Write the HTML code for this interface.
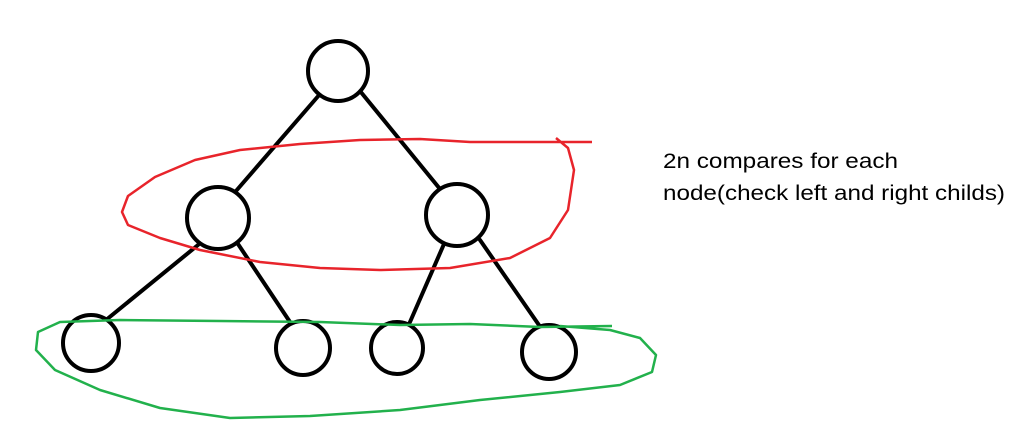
<!DOCTYPE html>
<html><head><meta charset="utf-8"><style>
html,body{margin:0;padding:0;background:#fff;}
svg{display:block;}
</style></head><body>
<svg width="1012" height="434" viewBox="0 0 1012 434" xmlns="http://www.w3.org/2000/svg">
<g stroke="#000" stroke-width="4" fill="none" stroke-linecap="round">
<line x1="320" y1="94" x2="236" y2="191"/>
<line x1="360" y1="91" x2="440" y2="189"/>
<line x1="198" y1="245" x2="106" y2="320"/>
<line x1="238" y1="244" x2="290" y2="322"/>
<line x1="444" y1="244" x2="410" y2="322"/>
<line x1="480" y1="240" x2="541" y2="328"/>
<circle cx="338" cy="71" r="30" fill="#fff"/>
<circle cx="218" cy="218" r="31" fill="#fff"/>
<circle cx="457" cy="215" r="31" fill="#fff"/>
<circle cx="91" cy="343" r="28" fill="#fff"/>
<circle cx="303" cy="348" r="27" fill="#fff"/>
<circle cx="397" cy="348" r="26" fill="#fff"/>
<circle cx="549" cy="352" r="27" fill="#fff"/>
</g>
<path d="M592 142 L470 142 L420 139 L360 140 L300 144 L240 150 L195 160 L155 177 L128 196 L122 212 L128 225 L160 238 L200 250 L260 262 L320 268 L380 270 L450 268 L510 258 L550 238 L568 210 L574 170 L568 148 L556 138" stroke="#e8242b" stroke-width="2.5" fill="none" stroke-linejoin="round"/>
<path d="M612 326 L540 327 L470 324 L400 325 L320 322 L220 321 L120 320 L60 322 L38 332 L36 350 L55 370 L100 390 L160 408 L230 418 L310 416 L400 410 L480 400 L560 392 L620 385 L652 372 L656 355 L640 338 L610 330 L560 326" stroke="#22b14c" stroke-width="2.5" fill="none" stroke-linejoin="round"/>
<text x="663" y="168" font-family="Liberation Sans, sans-serif" font-size="21" fill="#000" textLength="235" lengthAdjust="spacingAndGlyphs">2n compares for each</text>
<text x="663" y="200" font-family="Liberation Sans, sans-serif" font-size="21" fill="#000" textLength="342" lengthAdjust="spacingAndGlyphs">node(check left and right childs)</text>
</svg>
</body></html>
